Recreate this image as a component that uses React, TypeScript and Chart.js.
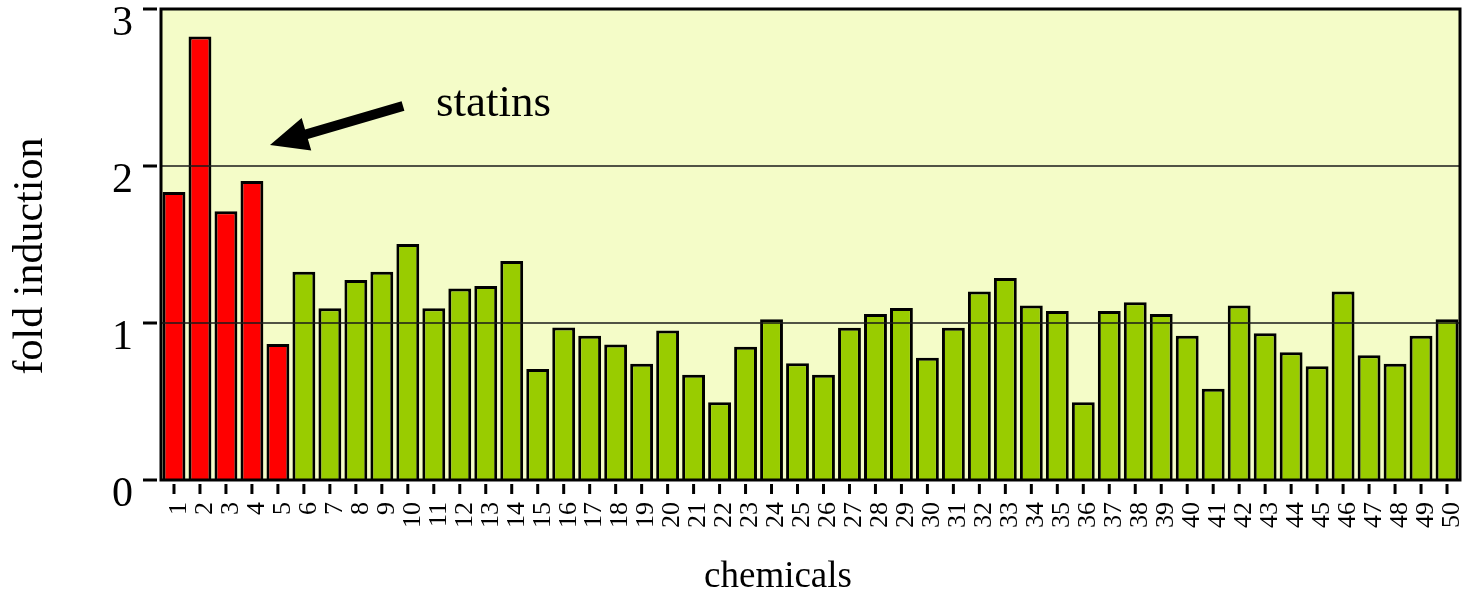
import React, { useEffect, useRef } from 'react';
import { Chart, registerables } from 'chart.js';

Chart.register(...registerables);

const chemicals = [
  '1', '2', '3', '4', '5', '6', '7', '8', '9', '10',
  '11', '12', '13', '14', '15', '16', '17', '18', '19', '20',
  '21', '22', '23', '24', '25', '26', '27', '28', '29', '30',
  '31', '32', '33', '34', '35', '36', '37', '38', '39', '40',
  '41', '42', '43', '44', '45', '46', '47', '48', '49', '50',
];

const foldInduction = [
  1.835, 2.825, 1.712, 1.905, 0.866, 1.327, 1.094, 1.274, 1.327, 1.503,
  1.094, 1.219, 1.236, 1.395, 0.707, 0.971, 0.918, 0.863, 0.741, 0.952,
  0.671, 0.495, 0.849, 1.024, 0.743, 0.671, 0.969, 1.058, 1.096, 0.779,
  0.969, 1.2, 1.287, 1.111, 1.077, 0.495, 1.077, 1.132, 1.058, 0.918,
  0.582, 1.111, 0.935, 0.813, 0.724, 1.2, 0.794, 0.741, 0.918, 1.024,
];

const statins = ['1', '2', '3', '4', '5'];

const yTickValues = [0, 1, 2, 3];
const gridValues = [1, 2];

const annotationLabel = 'statins';
const xTitle = 'chemicals';
const yTitle = 'fold induction';

const FONT = "'Liberation Serif', 'Times New Roman', Times, serif";
const RED = '#ff0000';
const GREEN = '#99cc00';
const PLOT_BG = '#f4fcc8';

const zeroPadding = (scale: any) => {
  scale.paddingTop = 0;
  scale.paddingBottom = 0;
  scale.paddingLeft = 0;
  scale.paddingRight = 0;
};

const decorPlugin = {
  id: 'decor',
  beforeDraw(chart: any) {
    const { ctx, chartArea: a } = chart;
    ctx.save();
    ctx.fillStyle = '#ffffff';
    ctx.fillRect(0, 0, chart.width, chart.height);
    ctx.fillStyle = PLOT_BG;
    ctx.fillRect(a.left, a.top, a.right - a.left, a.bottom - a.top);
    ctx.restore();
  },
  afterDatasetsDraw(chart: any) {
    const { ctx, chartArea: a } = chart;
    const y = chart.scales.y;
    const x = chart.scales.x;
    ctx.save();
    ctx.strokeStyle = '#1a1a1a';
    ctx.lineWidth = 1.5;
    gridValues.forEach((v) => {
      const py = y.getPixelForValue(v);
      ctx.beginPath();
      ctx.moveTo(a.left, py);
      ctx.lineTo(a.right, py);
      ctx.stroke();
    });
    ctx.strokeStyle = '#000';
    ctx.lineWidth = 3;
    ctx.strokeRect(a.left, a.top, a.right - a.left, a.bottom - a.top);
    yTickValues.forEach((v) => {
      const py = y.getPixelForValue(v);
      ctx.beginPath();
      ctx.moveTo(a.left - 18, py);
      ctx.lineTo(a.left - 4, py);
      ctx.stroke();
    });
    chemicals.forEach((_, i) => {
      const px = x.getPixelForTick(i);
      ctx.beginPath();
      ctx.moveTo(px, a.bottom + 4);
      ctx.lineTo(px, a.bottom + 14);
      ctx.stroke();
    });
    const tip = { x: 270, y: 145 };
    const tail = { x: 403, y: 106 };
    const dx = tail.x - tip.x;
    const dy = tail.y - tip.y;
    const len = Math.hypot(dx, dy);
    const ux = dx / len;
    const uy = dy / len;
    const nx = -uy;
    const ny = ux;
    const headLen = 38;
    const headHalf = 17;
    const shaftHalf = 5;
    const bx = tip.x + ux * headLen;
    const by = tip.y + uy * headLen;
    ctx.fillStyle = '#000';
    ctx.beginPath();
    ctx.moveTo(tip.x, tip.y);
    ctx.lineTo(bx + nx * headHalf, by + ny * headHalf);
    ctx.lineTo(bx + nx * shaftHalf, by + ny * shaftHalf);
    ctx.lineTo(tail.x + nx * shaftHalf, tail.y + ny * shaftHalf);
    ctx.lineTo(tail.x - nx * shaftHalf, tail.y - ny * shaftHalf);
    ctx.lineTo(bx - nx * shaftHalf, by - ny * shaftHalf);
    ctx.lineTo(bx - nx * headHalf, by - ny * headHalf);
    ctx.closePath();
    ctx.fill();
    ctx.fillStyle = '#000';
    ctx.font = `45px ${FONT}`;
    ctx.textAlign = 'left';
    ctx.textBaseline = 'alphabetic';
    ctx.fillText(annotationLabel, 436, 116);
    ctx.font = `37px ${FONT}`;
    ctx.textAlign = 'center';
    ctx.fillText(xTitle, 778, 587);
    ctx.translate(42, 256);
    ctx.rotate(-Math.PI / 2);
    ctx.font = `42px ${FONT}`;
    ctx.textAlign = 'center';
    ctx.fillText(yTitle, 0, 0);
    ctx.restore();
  },
};

export default function App() {
  const canvasRef = useRef<HTMLCanvasElement | null>(null);

  useEffect(() => {
    document.body.style.margin = '0';
    const canvas = canvasRef.current;
    if (!canvas) return;
    const chart = new Chart(canvas, {
      type: 'bar',
      data: {
        labels: chemicals,
        datasets: [
          {
            label: yTitle,
            data: foldInduction,
            backgroundColor: chemicals.map((c) => (statins.includes(c) ? RED : GREEN)),
            borderColor: '#000',
            borderWidth: 3,
            barPercentage: 0.88,
            categoryPercentage: 1,
          },
        ],
      },
      options: {
        animation: false,
        responsive: false,
        maintainAspectRatio: false,
        layout: { autoPadding: false, padding: { left: 0, top: 9, right: 3, bottom: 0 } },
        plugins: {
          legend: { display: false },
          tooltip: { enabled: false },
          title: { display: false },
        },
        scales: {
          x: {
            type: 'category',
            grid: { display: false, drawTicks: false },
            border: { display: false },
            ticks: {
              autoSkip: false,
              minRotation: 90,
              maxRotation: 90,
              padding: 22,
              labelOffset: 5,
              color: '#000',
              font: { family: FONT, size: 26 },
            },
            afterFit: (scale: any) => {
              scale.height = 116;
              zeroPadding(scale);
            },
          },
          y: {
            min: 0,
            max: 3,
            grid: { display: false, drawTicks: false },
            border: { display: false },
            ticks: {
              stepSize: 1,
              padding: 28,
              labelOffset: 15,
              color: '#000',
              font: { family: FONT, size: 42 },
            },
            afterFit: (scale: any) => {
              scale.width = 161;
              zeroPadding(scale);
            },
          },
        },
      },
      plugins: [decorPlugin],
    });
    return () => chart.destroy();
  }, []);

  return (
    <div style={{ width: 1463, height: 596 }}>
      <canvas ref={canvasRef} width={1463} height={596} style={{ display: 'block' }} />
    </div>
  );
}
